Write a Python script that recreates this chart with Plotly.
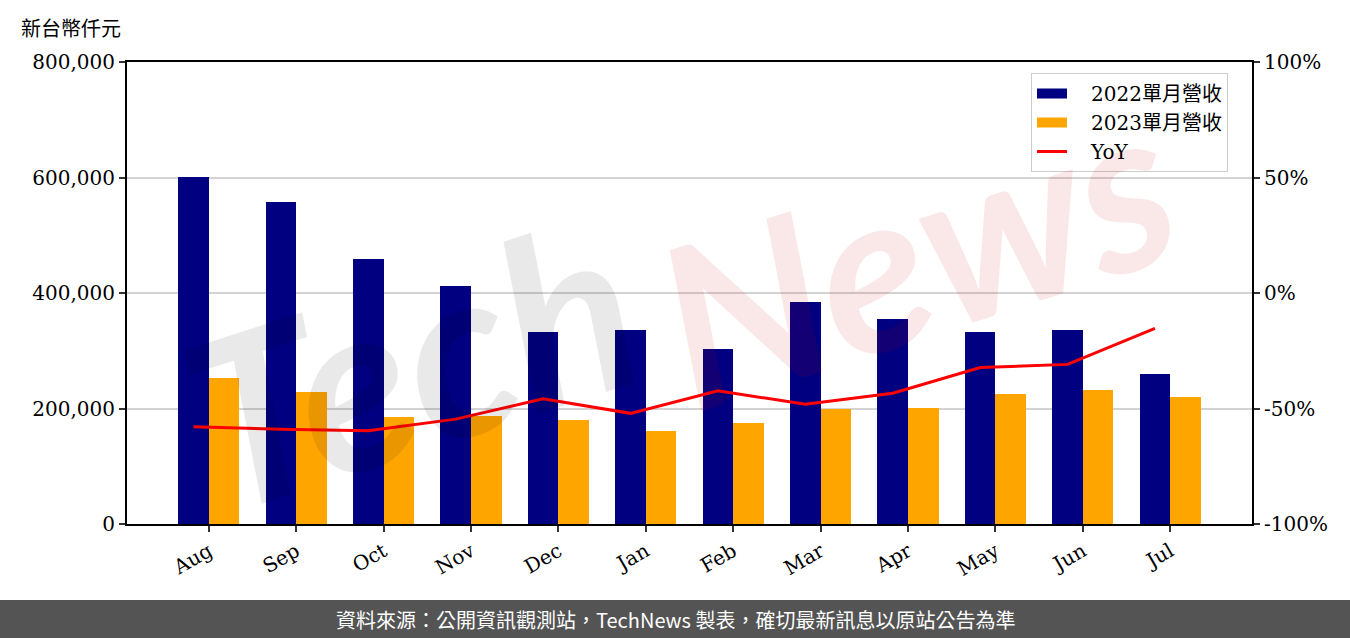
import plotly.graph_objects as go

months = ["Aug", "Sep", "Oct", "Nov", "Dec", "Jan", "Feb", "Mar", "Apr", "May", "Jun", "Jul"]
rev_2022 = [601000, 557700, 459000, 412200, 332500, 336000, 303100, 384500, 355000, 332500, 336000, 259800]
rev_2023 = [252900, 228600, 185300, 187000, 180100, 161100, 174900, 199200, 200900, 225200, 232100, 220000]
yoy = [-57.9, -59.0, -59.6, -54.6, -45.8, -52.1, -42.3, -48.2, -43.4, -32.3, -30.9, -15.3]

left_ticks = [0, 200000, 400000, 600000, 800000]
right_ticks = [-100, -50, 0, 50, 100]

W, H = 1350, 638
ML, MR, MT, MB = 127, 98, 62, 114
PW, PH = W - ML - MR, H - MT - MB

def px(x):
    return (x - ML) / PW

def py(y):
    return (H - MB - y) / PH

bw = 0.35
idx = list(range(len(months)))
x22 = [i - bw / 2 for i in idx]
x23 = [i + bw / 2 for i in idx]

serif = "DejaVu Serif, Noto Sans CJK TC, serif"
navy, orange, red = "#000080", "#FFA500", "#FF0000"
pad = "\u00a0" * 3

fig = go.Figure()
fig.add_trace(go.Bar(x=x22, y=rev_2022, width=bw, name="2022單月營收", showlegend=False,
                     marker=dict(color=navy, line=dict(width=0))))
fig.add_trace(go.Bar(x=x23, y=rev_2023, width=bw, name="2023單月營收", showlegend=False,
                     marker=dict(color=orange, line=dict(width=0))))
fig.add_trace(go.Scatter(x=x22, y=yoy, mode="lines", name="YoY", yaxis="y2", showlegend=False,
                         line=dict(color=red, width=3)))
# legend entries (wide rectangles like the reference)
fig.add_trace(go.Scatter(x=[None], y=[None], mode="lines", name=pad + "2022單月營收",
                         line=dict(color=navy, width=16)))
fig.add_trace(go.Scatter(x=[None], y=[None], mode="lines", name=pad + "2023單月營收",
                         line=dict(color=orange, width=16)))
fig.add_trace(go.Scatter(x=[None], y=[None], mode="lines", name=pad + "YoY",
                         line=dict(color=red, width=3)))

tickfont = dict(family=serif, size=20, color="#000000")
fig.update_layout(
    width=W, height=H,
    margin=dict(l=ML, r=MR, t=MT, b=MB, pad=0),
    paper_bgcolor="white", plot_bgcolor="white",
    barmode="overlay", bargap=0,
    showlegend=True,
    legend=dict(x=px(1031), y=py(73), xanchor="left", yanchor="top",
                bordercolor="#cccccc", borderwidth=1, bgcolor="rgba(255,255,255,0.8)",
                font=dict(family=serif, size=20, color="#000000"),
                tracegroupgap=0),
    xaxis=dict(range=[-0.935, 11.935], tickvals=idx, ticktext=months, tickangle=-30,
               showline=True, linecolor="black", linewidth=2, mirror=True,
               ticks="outside", ticklen=6, tickwidth=1.5, tickcolor="#333333",
               showgrid=False, zeroline=False, tickfont=tickfont),
    yaxis=dict(range=[0, 800000], tickvals=left_ticks,
               ticktext=[f"{v:,}" for v in left_ticks],
               showline=True, linecolor="black", linewidth=2, mirror=True,
               ticks="outside", ticklen=6, tickwidth=1.5, tickcolor="#333333",
               showgrid=True, gridcolor="#d3d3d3", gridwidth=1.5, zeroline=False,
               tickfont=tickfont),
    yaxis2=dict(range=[-100, 100], tickvals=right_ticks,
                ticktext=[f"{v}%" for v in right_ticks],
                overlaying="y", side="right", showgrid=False, zeroline=False,
                showline=True, linecolor="black", linewidth=2,
                ticks="outside", ticklen=6, tickwidth=1.5, tickcolor="#333333",
                tickfont=tickfont),
)

# watermark
fig.add_annotation(text="Tech", xref="paper", yref="paper", x=px(410), y=py(360),
                   xanchor="center", yanchor="middle",
                   showarrow=False, textangle=-18,
                   font=dict(family="Lato, sans-serif", size=235, color="rgba(0,0,0,0.085)",
                             style="italic", weight="bold"))
fig.add_annotation(text="News", xref="paper", yref="paper", x=px(915), y=py(250),
                   xanchor="center", yanchor="middle",
                   showarrow=False, textangle=-18,
                   font=dict(family="Lato, sans-serif", size=225, color="rgba(200,0,0,0.09)",
                             style="italic", weight="bold"))

# unit label
fig.add_annotation(text="新台幣仟元", xref="paper", yref="paper", x=px(19), y=py(28),
                   xanchor="left", yanchor="middle", showarrow=False,
                   font=dict(family="Noto Sans CJK TC, sans-serif", size=20, color="#000000"))

# footer band
fig.add_shape(type="rect", xref="paper", yref="paper", x0=px(-5), x1=px(W + 5),
              y0=py(H + 5), y1=py(600), fillcolor="#545454", line=dict(width=0), layer="above")
fig.add_annotation(text="資料來源：公開資訊觀測站，TechNews 製表，確切最新訊息以原站公告為準",
                   xref="paper", yref="paper", x=px(675), y=py(619),
                   xanchor="center", yanchor="middle", showarrow=False,
                   font=dict(family="Noto Sans CJK TC, sans-serif", size=20, color="#ffffff"))

fig.write_html("out.html", config={"displayModeBar": False},
               post_script="document.body.style.margin='0';")
